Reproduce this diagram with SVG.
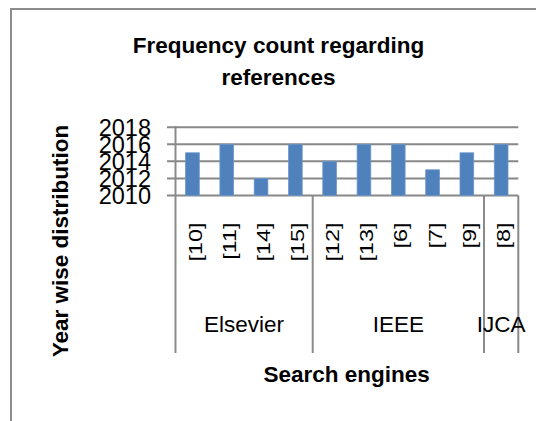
<svg xmlns="http://www.w3.org/2000/svg" width="536" height="421" viewBox="0 0 536 421">
<style>
.t{font-family:"Liberation Sans",Arial,sans-serif;fill:#000}
.b{font-weight:bold}
.grid{stroke:#888;stroke-width:2;fill:none}
.ax{stroke:#8a8a8a;stroke-width:2;fill:none}
.bar{fill:#4f81bd;stroke:#6d97c9;stroke-width:0.8}
.cat{font-size:18px}
</style>
<rect x="0" y="0" width="536" height="421" fill="#fff"/>
<g id="frame"><path d="M11 421 V9 H536" fill="none" stroke="#8c8c8c" stroke-width="2"/></g>
<g id="title"><text class="t b" x="278.5" y="53" font-size="22.5" text-anchor="middle">Frequency count regarding</text><text class="t b" x="278.5" y="85" font-size="22.5" text-anchor="middle">references</text></g>
<g id="gridlines">
<line class="grid" x1="167" y1="127.2" x2="518.3" y2="127.2"/>
<line class="grid" x1="167" y1="144.3" x2="518.3" y2="144.3"/>
<line class="grid" x1="167" y1="161.3" x2="518.3" y2="161.3"/>
<line class="grid" x1="167" y1="178.4" x2="518.3" y2="178.4"/>
<line class="grid" x1="167" y1="195.4" x2="518.3" y2="195.4"/>
</g>
<g id="axes">
<line class="ax" x1="175.5" y1="126" x2="175.5" y2="353"/>
<line class="ax" x1="312.7" y1="195.4" x2="312.7" y2="353"/>
<line class="ax" x1="484" y1="195.4" x2="484" y2="353"/>
<line class="ax" x1="518.3" y1="195.4" x2="518.3" y2="353"/>
</g>
<g id="bars">
<rect class="bar" x="185.6" y="152.8" width="13.7" height="42.6"/>
<rect class="bar" x="219.9" y="144.3" width="13.7" height="51.1"/>
<rect class="bar" x="254.2" y="178.4" width="13.7" height="17"/>
<rect class="bar" x="288.5" y="144.3" width="13.7" height="51.1"/>
<rect class="bar" x="322.8" y="161.3" width="13.7" height="34.1"/>
<rect class="bar" x="357.1" y="144.3" width="13.7" height="51.1"/>
<rect class="bar" x="391.4" y="144.3" width="13.7" height="51.1"/>
<rect class="bar" x="425.7" y="169.8" width="13.7" height="25.6"/>
<rect class="bar" x="460" y="152.8" width="13.7" height="42.6"/>
<rect class="bar" x="494.3" y="144.3" width="13.7" height="51.1"/>
</g>
<g id="yticks" class="t" font-size="23.5" text-anchor="end">
<text x="151" y="135.6">2018</text>
<text x="151" y="152.7">2016</text>
<text x="151" y="169.7">2014</text>
<text x="151" y="186.8">2012</text>
<text x="151" y="203.8">2010</text>
</g>
<g id="catlabels" class="t cat" text-anchor="end">
<text transform="translate(201.5,222.5) rotate(-90) scale(1.3,1)">[10]</text>
<text transform="translate(235.8,222.5) rotate(-90) scale(1.3,1)">[11]</text>
<text transform="translate(270.1,222.5) rotate(-90) scale(1.3,1)">[14]</text>
<text transform="translate(304.4,222.5) rotate(-90) scale(1.3,1)">[15]</text>
<text transform="translate(338.7,222.5) rotate(-90) scale(1.3,1)">[12]</text>
<text transform="translate(373,222.5) rotate(-90) scale(1.3,1)">[13]</text>
<text transform="translate(407.3,222.5) rotate(-90) scale(1.3,1)">[6]</text>
<text transform="translate(441.6,222.5) rotate(-90) scale(1.3,1)">[7]</text>
<text transform="translate(475.9,222.5) rotate(-90) scale(1.3,1)">[9]</text>
<text transform="translate(510.2,222.5) rotate(-90) scale(1.3,1)">[8]</text>
</g>
<g id="groups" class="t" font-size="22.5" text-anchor="middle">
<text x="243.9" y="331.7">Elsevier</text>
<text x="398.3" y="331.7">IEEE</text>
<text x="501.2" y="331.7">IJCA</text>
</g>
<g id="axistitles" class="t b" font-size="22.5" text-anchor="middle">
<text transform="translate(68,241) rotate(-90)">Year wise distribution</text>
<text x="346.7" y="381.7">Search engines</text>
</g>
</svg>
